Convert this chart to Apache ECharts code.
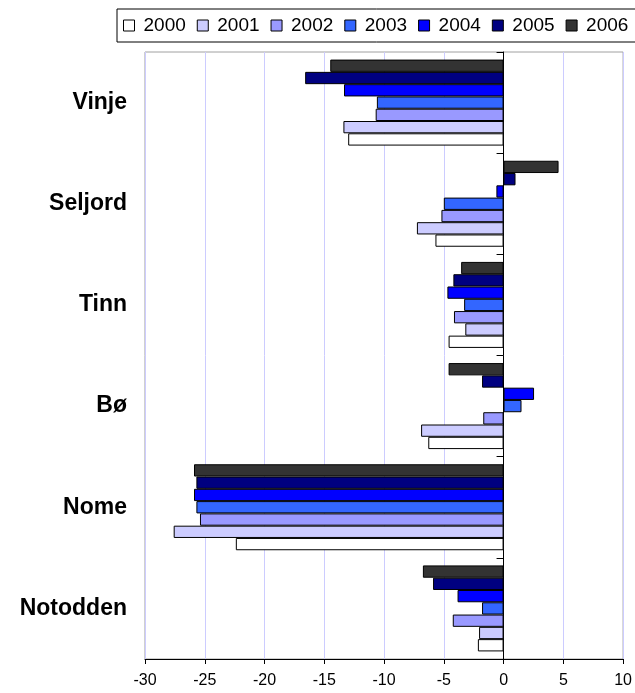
<!DOCTYPE html>
<html><head><meta charset="utf-8">
<script src="https://cdn.jsdelivr.net/npm/echarts@6/dist/echarts.min.js"></script>
<style>html,body{margin:0;padding:0;background:#fff}#c{width:635px;height:693px}</style>
</head><body><div id="c"></div>
<script>
var categories = ['Vinje', 'Seljord', 'Tinn', 'Bø', 'Nome', 'Notodden'];
var years = ['2000', '2001', '2002', '2003', '2004', '2005', '2006'];
var v2000 = [-13.0, -5.7, -4.6, -6.3, -22.4, -2.15];
var v2001 = [-13.4, -7.25, -3.2, -6.9, -27.6, -2.05];
var v2002 = [-10.7, -5.2, -4.15, -1.7, -25.4, -4.25];
var v2003 = [-10.6, -5.0, -3.3, 1.5, -25.7, -1.8];
var v2004 = [-13.35, -0.6, -4.7, 2.55, -25.9, -3.85];
var v2005 = [-16.6, 1.0, -4.2, -1.8, -25.7, -5.9];
var v2006 = [-14.5, 4.6, -3.55, -4.6, -25.9, -6.75];
var xTicks = [-30, -25, -20, -15, -10, -5, 0, 5, 10];

var values = [v2000, v2001, v2002, v2003, v2004, v2005, v2006];
var colors = ['#ffffff', '#ccccff', '#9999ff', '#3366ff', '#0000ff', '#000080', '#333333'];
var font = 'Arial, "Liberation Sans", sans-serif';

var series = [];
for (var i = years.length - 1; i >= 0; i--) {
  series.push({
    name: years[i], type: 'bar', data: values[i],
    barGap: '0%', barCategoryGap: '15%',
    itemStyle: { color: colors[i], borderColor: '#000', borderWidth: 1 },
    emphasis: { disabled: true }
  });
}

var chart = echarts.init(document.getElementById('c'), null, { renderer: 'canvas' });
chart.setOption({
  animation: false,
  backgroundColor: '#fff',
  textStyle: { fontFamily: font },
  legend: {
    data: years, left: 117, top: 9, width: 540, orient: 'horizontal',
    padding: [7, 8, 7, 6], itemGap: 11, itemWidth: 11, itemHeight: 11,
    borderColor: '#000', borderWidth: 1,
    icon: 'rect',
    itemStyle: { borderColor: '#000', borderWidth: 1 },
    textStyle: { fontFamily: font, fontSize: 19, color: '#000', padding: [0, 0, 0, 4], lineHeight: 19 },
    selectedMode: false
  },
  grid: { left: 145, right: 10.5, top: 52, bottom: 34, show: true, borderColor: '#a0a0a0', borderWidth: 1, containLabel: false },
  xAxis: {
    type: 'value', min: -30, max: 10, interval: 5,
    axisLine: { show: true, onZero: false, lineStyle: { color: '#000', width: 1 } },
    axisTick: { show: true, length: 5, lineStyle: { color: '#000' } },
    axisLabel: { fontFamily: font, fontSize: 16, color: '#000', margin: 14,
      formatter: function (v) { return xTicks.indexOf(v) >= 0 ? String(v) : ''; } },
    splitLine: { show: true, lineStyle: { color: '#ccccff', width: 1 } }
  },
  yAxis: [{
    type: 'category', data: categories, inverse: true,
    axisLine: { show: false, onZero: false }, axisTick: { show: false },
    axisLabel: { fontFamily: font, fontSize: 23, fontWeight: 'bold', color: '#000', margin: 18 }
  }, {
    type: 'category', data: categories, inverse: true, position: 'left',
    axisLine: { show: true, onZero: true, onZeroAxisIndex: 0, lineStyle: { color: '#000', width: 1 } },
    axisTick: { show: true, length: 7, lineStyle: { color: '#000' } },
    axisLabel: { show: false }
  }],
  series: series
});
</script></body></html>
